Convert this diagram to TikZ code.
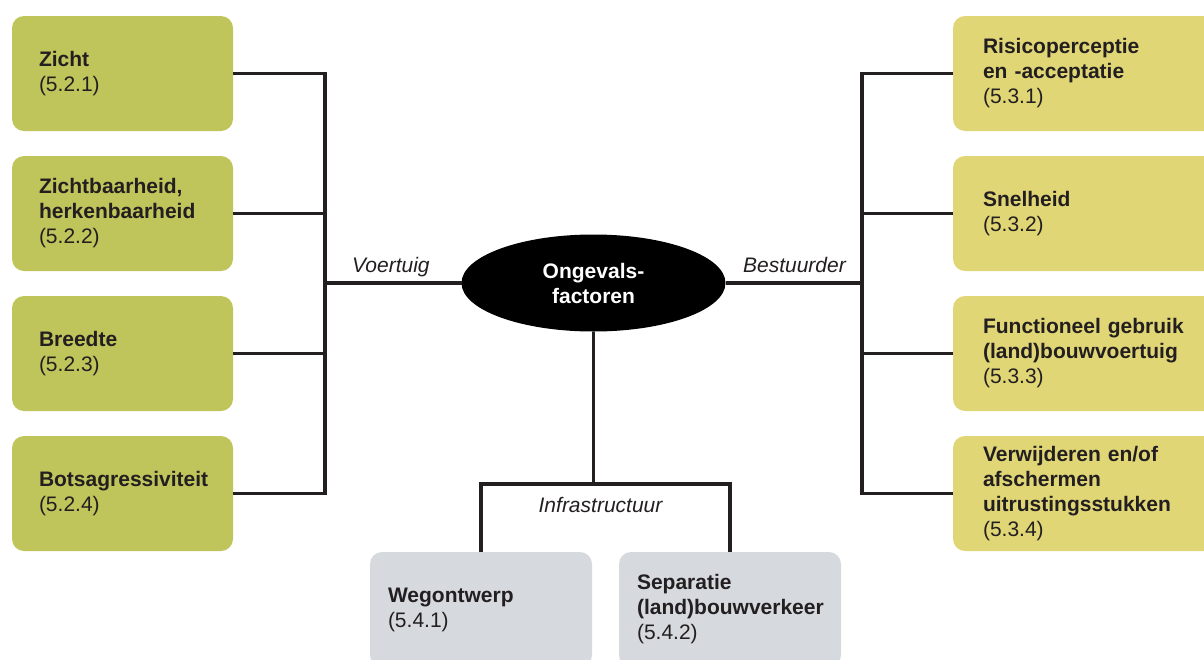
\documentclass[tikz,border=0pt]{standalone}
\usepackage{fontspec}
\setmainfont{Liberation Sans}
\usepackage{tikz}
\usetikzlibrary{shapes.geometric}

\definecolor{olijf}{RGB}{191,196,91}
\definecolor{geel}{RGB}{224,214,117}
\definecolor{grijs}{RGB}{214,217,221}
\definecolor{inkt}{RGB}{35,31,32}

\begin{document}
\begin{tikzpicture}[x=1pt,y=-1pt,
	txt/.style={font=\fontsize{21}{25}\selectfont, text=inkt},
	vakje/.style={txt, rounded corners=12pt, minimum height=115pt, outer sep=0pt, align=left},
	links/.style={vakje, fill=olijf, minimum width=221pt, inner xsep=27pt, text width=167pt},
	rechts/.style={vakje, fill=geel, minimum width=280pt, inner xsep=30pt, text width=220pt},
	onder/.style={vakje, fill=grijs, minimum width=222pt, inner xsep=18pt, text width=186pt},
	tak/.style={txt, font=\fontsize{21}{25}\selectfont\itshape, inner sep=0pt},
	lijn/.style={draw=inkt, line width=3.2pt}]
	\useasboundingbox (0,0) rectangle (1204,659);
	\clip (0,0) rectangle (1204,659);
	% midden
	\node[txt, ellipse, fill=black, text=white, minimum width=264pt, minimum height=97pt, inner sep=0pt, outer sep=0pt, align=center] (ongeval) at (593.5,283) {\textbf{Ongevals-}\\\textbf{factoren}};
	% voertuig
	\node[links] (zicht) at (122.5,73.5) {\textbf{Zicht}\\(5.2.1)};
	\node[links] (zichtbaar) at (122.5,213.5) {\textbf{Zichtbaarheid,}\\\textbf{herkenbaarheid}\\(5.2.2)};
	\node[links] (breedte) at (122.5,353.5) {\textbf{Breedte}\\(5.2.3)};
	\node[links] (botsing) at (122.5,493.5) {\textbf{Botsagressiviteit}\\(5.2.4)};
	% bestuurder
	\node[rechts] (risico) at (1093,73.5) {\textbf{Risicoperceptie}\\\textbf{en -acceptatie}\\(5.3.1)};
	\node[rechts] (snelheid) at (1093,213.5) {\textbf{Snelheid}\\(5.3.2)};
	\node[rechts] (gebruik) at (1093,353.5) {\textbf{Functioneel gebruik}\\\textbf{(land)bouwvoertuig}\\(5.3.3)};
	\node[rechts] (afscherm) at (1093,493.5) {\textbf{Verwijderen en/of}\\\textbf{afschermen}\\\textbf{uitrustingsstukken}\\(5.3.4)};
	% infrastructuur
	\node[onder] (wegontwerp) at (481,609.5) {\textbf{Wegontwerp}\\(5.4.1)};
	\node[onder] (separatie) at (730,609.5) {\textbf{Separatie}\\\textbf{(land)bouwverkeer}\\(5.4.2)};
	% takken
	\coordinate (lbus) at (325,283);
	\coordinate (rbus) at (862,283);
	\coordinate (ibus) at (593.5,484);
	\draw[lijn] (zicht.east) -| (lbus);
	\draw[lijn] (botsing.east) -| (lbus);
	\draw[lijn] (zichtbaar.east) -- (zichtbaar.east -| lbus);
	\draw[lijn] (breedte.east) -- (breedte.east -| lbus);
	\draw[lijn] (lbus) -- (ongeval.west);
	\draw[lijn] (risico.west) -| (rbus);
	\draw[lijn] (afscherm.west) -| (rbus);
	\draw[lijn] (snelheid.west) -- (snelheid.west -| rbus);
	\draw[lijn] (gebruik.west) -- (gebruik.west -| rbus);
	\draw[lijn] (rbus) -- (ongeval.east);
	\draw[lijn] (ongeval.south) -- (ibus);
	\draw[lijn] (wegontwerp.north) |- (ibus) -| (separatie.north);
	\node[tak, anchor=base west] (voertuig) at (352,272) {Voertuig};
	\node[tak, anchor=base east] (bestuurder) at (846,272) {Bestuurder};
	\node[tak, anchor=base] (infra) at (600.5,512) {Infrastructuur};
\end{tikzpicture}
\end{document}
